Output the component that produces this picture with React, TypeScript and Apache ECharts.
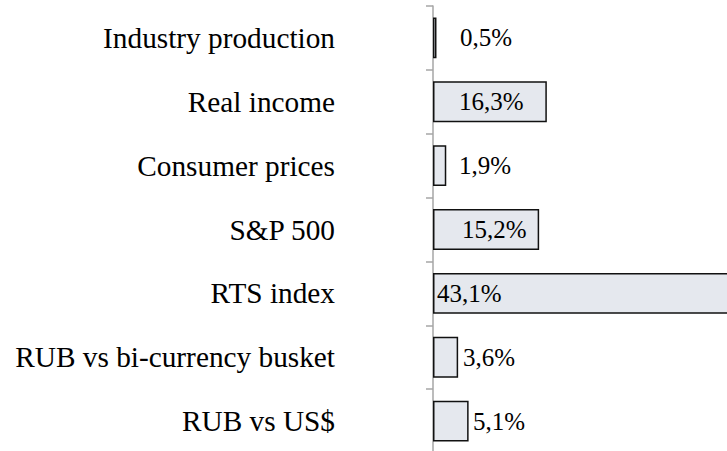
import React, { useEffect, useRef } from "react";
import * as echarts from "echarts";

const categories = [
  "Industry production",
  "Real income",
  "Consumer prices",
  "S&P 500",
  "RTS index",
  "RUB vs bi-currency busket",
  "RUB vs US$",
];
const values = [0.5, 16.3, 1.9, 15.2, 43.1, 3.6, 5.1];
// label left offsets (px from bar start) – styling only
const labelOffsets = [27, 26, 26, 29, 4, 30, 40];

export default function App() {
  const ref = useRef<HTMLDivElement>(null);
  useEffect(() => {
    if (!ref.current) return;
    const chart = echarts.init(ref.current, undefined, { renderer: "svg" });
    const font = "'Liberation Serif', 'Times New Roman', serif";
    chart.setOption({
      animation: false,
      backgroundColor: "#ffffff",
      grid: {
        left: 433,
        width: 301,
        top: 6,
        height: 447,
        containLabel: false,
        outerBoundsMode: "none",
      },
      xAxis: {
        type: "value",
        min: 0,
        max: 43.1,
        show: false,
      },
      yAxis: {
        type: "category",
        inverse: true,
        data: categories,
        axisLine: { show: true, lineStyle: { color: "#a6a6a6", width: 1.5 } },
        axisTick: { show: true, length: 7, lineStyle: { color: "#a6a6a6", width: 1.5 } },
        axisLabel: {
          margin: 98,
          color: "#000000",
          fontFamily: font,
          fontSize: 29.3,
        },
        splitLine: { show: false },
      },
      series: [
        {
          type: "bar",
          clip: false,
          barCategoryGap: "36%",
          data: values.map((v, i) => ({
            value: v,
            label: { position: [labelOffsets[i], "50%"] },
          })),
          itemStyle: { color: "#e5e8ee", borderColor: "#111111", borderWidth: 1.5 },
          label: {
            show: true,
            align: "left",
            verticalAlign: "middle",
            color: "#000000",
            fontFamily: font,
            fontSize: 25,
            formatter: (p: any) => p.value.toFixed(1).replace(".", ",") + "%",
          },
        },
      ],
    });
    return () => chart.dispose();
  }, []);
  return (
    <div
      ref={ref}
      style={{ position: "fixed", left: 0, top: 0, width: 727, height: 451 }}
    />
  );
}
